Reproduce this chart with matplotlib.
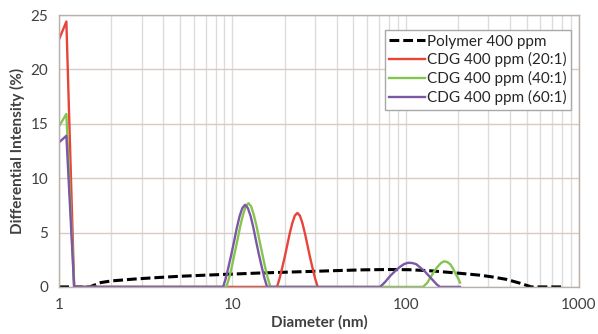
import numpy as np
import matplotlib as mpl
import matplotlib.pyplot as plt

### Size distributions (diameter in nm, intensity in %)

poly_d = [1.0, 1.5, 1.74, 2.0, 2.7, 3.6, 5.0, 7.0, 10, 14, 20, 28, 40, 57, 80,
          105, 140, 206, 267, 307, 380, 455, 531, 825]
poly_i = [0, 0, 0.4, 0.55, 0.72, 0.85, 0.98, 1.08, 1.18, 1.27, 1.35, 1.42, 1.5,
          1.57, 1.6, 1.58, 1.48, 1.25, 1.08, 0.95, 0.7, 0.35, 0, 0]

r20_d = [1.0, 1.1, 1.22,
         18.08, 18.70, 19.34, 20.01, 20.70, 21.41, 22.15, 22.92, 23.71,
         24.52, 25.37, 26.24, 27.14, 28.08, 29.04, 30.04, 31.08]
r20_i = [22.8, 24.4, 0,
         0, 0.75, 1.7, 2.7, 3.8, 4.9, 5.85, 6.55, 6.8,
         6.55, 5.85, 4.9, 3.8, 2.7, 1.7, 0.75, 0]

r40_d = [1.0, 1.1, 1.22,
         9.23, 9.58, 9.93, 10.30, 10.69, 11.08, 11.50, 11.93, 12.37,
         12.83, 13.30, 13.80, 14.31, 14.85, 15.40, 15.97, 16.57,
         126.0, 132.9, 138.3, 145.8, 151.8, 160.1, 166.6, 173.3, 180.4, 187.7, 192.8, 200.7, 206.0]
r40_i = [14.8, 15.9, 0,
         0, 0.85, 1.9, 3.1, 4.3, 5.55, 6.6, 7.4, 7.7,
         7.4, 6.6, 5.55, 4.3, 3.1, 1.9, 0.85, 0,
         0, 0.35, 0.8, 1.4, 1.8, 2.2, 2.35, 2.3, 2.1, 1.7, 1.3, 0.8, 0.4]

r60_d = [1.0, 1.1, 1.22,
         8.84, 9.17, 9.51, 9.86, 10.23, 10.61, 11.00, 11.41, 11.84,
         12.28, 12.74, 13.21, 13.70, 14.21, 14.74, 15.29, 15.86,
         71.2, 76.1, 81.3, 86.9, 92.8, 97.9, 103.3, 108.9, 114.8, 121.1, 129.4, 136.5, 143.9,
         151.8, 158.0, 206.0]
r60_i = [13.3, 13.9, 0,
         0, 0.83, 1.9, 3.0, 4.2, 5.45, 6.5, 7.25, 7.55,
         7.25, 6.5, 5.45, 4.2, 3.0, 1.9, 0.83, 0,
         0, 0.45, 1.0, 1.45, 1.85, 2.1, 2.22, 2.2, 2.1, 1.8, 1.4, 1.0, 0.6,
         0.2, 0, 0]

labels = ["Polymer 400 ppm", "CDG 400 ppm (20:1)", "CDG 400 ppm (40:1)", "CDG 400 ppm (60:1)"]
yticks = [0, 5, 10, 15, 20, 25]
xticks = [1, 10, 100, 1000]

plt.rcParams['font.family'] = ['Lato', 'DejaVu Sans']

fig, ax = plt.subplots(figsize=(5.98, 3.34), dpi=100)
fig.subplots_adjust(left=0.099, right=0.968, top=0.955, bottom=0.141)

ax.plot(poly_d, poly_i, color="black", lw=2.2, dashes=(3.2, 1.3), label=labels[0])
ax.plot(r20_d, r20_i, color="#e8443a", lw=1.7, label=labels[1])
ax.plot(r40_d, r40_i, color="#86c450", lw=1.7, label=labels[2])
ax.plot(r60_d, r60_i, color="#7b58a6", lw=1.7, label=labels[3])

### Axes

ax.set_xscale("log")
ax.set_xlim(1, 1000)
ax.set_ylim(0, 25)
ax.set_xticks(xticks)
ax.set_xticklabels([str(x) for x in xticks])
ax.set_yticks(yticks)
ax.xaxis.set_minor_locator(mpl.ticker.LogLocator(base=10, subs=np.arange(2, 10)))
ax.xaxis.set_minor_formatter(mpl.ticker.NullFormatter())

ax.grid(which="major", axis="y", color="#d8c9c2", lw=1)
ax.grid(which="both", axis="x", color="#dcdcdc", lw=1)
ax.set_axisbelow(True)
ax.tick_params(which="both", length=0, labelsize=11, colors="#404040", pad=8)
for s in ax.spines.values():
    s.set_color("#b8b0aa")
    s.set_linewidth(1)

ax.set_xlabel("Diameter (nm)", fontsize=11, fontweight="bold", color="#404040", labelpad=2)
ax.set_ylabel("Differential Intensity (%)", fontsize=11, fontweight="bold", color="#404040", labelpad=4)

leg = ax.legend(loc="upper right", bbox_to_anchor=(0.985, 0.945), fontsize=11,
                handlelength=2.3, handletextpad=0.15, borderpad=0.3, labelspacing=0.25,
                fancybox=False, framealpha=1, edgecolor="#a8a8a8", borderaxespad=0)
for t in leg.get_texts():
    t.set_color("#262626")

fig.savefig("out.png", dpi=100)
